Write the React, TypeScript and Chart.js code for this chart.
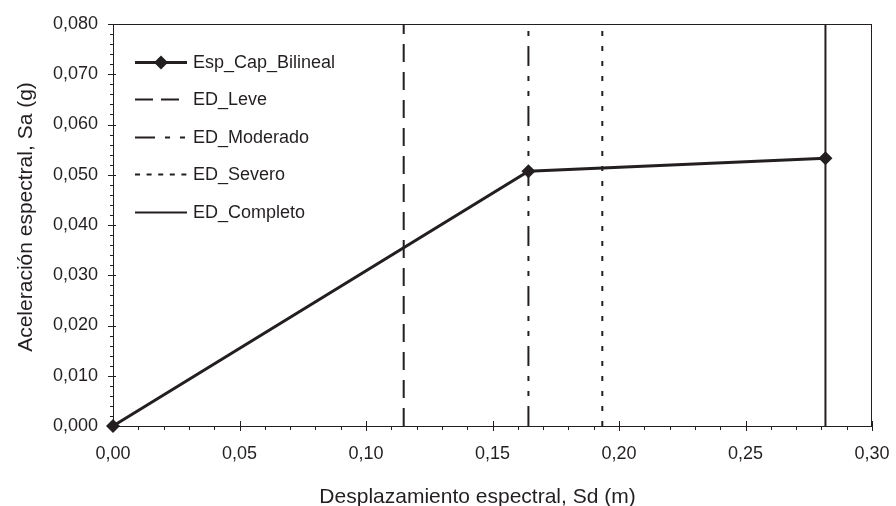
import React, { useEffect, useRef } from 'react';
import { Chart, registerables } from 'chart.js';

Chart.register(...registerables);

// ---- data ----
const capacityLabel = 'Esp_Cap_Bilineal';
const capacityDisplacement = [0, 0.1642, 0.2816];
const capacityAcceleration = [0, 0.0507, 0.0533];

const damageStateLabels = ['ED_Leve', 'ED_Moderado', 'ED_Severo', 'ED_Completo'];
const damageStateDisplacement = [0.1149, 0.1642, 0.1934, 0.2816];

const xTitle = 'Desplazamiento espectral, Sd (m)';
const yTitle = 'Aceleración espectral, Sa (g)';
const xMin = 0;
const xMax = 0.3;
const xStep = 0.05;
const xMinorStep = 0.01;
const yMin = 0;
const yMax = 0.08;
const yStep = 0.01;
const yMinorStep = 0.002;

// ---- styles ----
const INK = '#231f20';
const FONT = '"Liberation Sans", Arial, Helvetica, sans-serif';
const chartDashes = [[18, 10], [20, 10, 5, 10, 5, 10], [5, 10], []];
const legendDashes = [[18, 8], [20, 10, 5, 10, 5, 10], [5, 6.6], []];

const decorPlugin = {
  id: 'decor',
  afterDraw(chart: any) {
    const { ctx, chartArea } = chart;
    const xs = chart.scales.x;
    const ys = chart.scales.y;
    const { left, right, top, bottom } = chartArea;
    ctx.save();
    // frame
    ctx.strokeStyle = INK;
    ctx.lineWidth = 1;
    ctx.setLineDash([]);
    ctx.strokeRect(left + 0.5, top + 0.5, right - left - 1, bottom - top);

    // x ticks
    const nx = Math.round((xMax - xMin) / xMinorStep);
    for (let i = 0; i <= nx; i++) {
      const v = xMin + i * xMinorStep;
      const px = Math.round(xs.getPixelForValue(v)) + 0.5;
      const major = i % Math.round(xStep / xMinorStep) === 0;
      ctx.beginPath();
      if (major) {
        ctx.moveTo(px, bottom - 5);
        ctx.lineTo(px, bottom + 5);
      } else {
        ctx.moveTo(px, bottom);
        ctx.lineTo(px, bottom + 4);
      }
      ctx.stroke();
    }
    // y ticks
    const ny = Math.round((yMax - yMin) / yMinorStep);
    for (let i = 0; i <= ny; i++) {
      const v = yMin + i * yMinorStep;
      const py = Math.round(ys.getPixelForValue(v)) + 0.5;
      const major = i % Math.round(yStep / yMinorStep) === 0;
      ctx.beginPath();
      if (major) {
        ctx.moveTo(left - 5, py);
        ctx.lineTo(left + 3, py);
      } else {
        ctx.moveTo(left - 3, py);
        ctx.lineTo(left, py);
      }
      ctx.stroke();
    }

    // legend
    const lx0 = 135;
    const lx1 = 187;
    const ly0 = 61.5;
    const lstep = 37.5;
    ctx.font = `18px ${FONT}`;
    ctx.textBaseline = 'middle';
    ctx.textAlign = 'left';
    chart.data.datasets.forEach((ds: any, i: number) => {
      const y = Math.round(ly0 + i * lstep) + 0.5;
      ctx.strokeStyle = ds.borderColor;
      ctx.lineWidth = ds.borderWidth;
      ctx.setLineDash(ds.legendDash || []);
      ctx.beginPath();
      ctx.moveTo(lx0, y);
      ctx.lineTo(lx1, y);
      ctx.stroke();
      ctx.setLineDash([]);
      if (ds.pointRadius > 0) {
        const cx = (lx0 + lx1) / 2;
        const r = ds.pointRadius;
        ctx.fillStyle = ds.pointBackgroundColor;
        ctx.beginPath();
        ctx.moveTo(cx, y - r);
        ctx.lineTo(cx + r, y);
        ctx.lineTo(cx, y + r);
        ctx.lineTo(cx - r, y);
        ctx.closePath();
        ctx.fill();
      }
      ctx.fillStyle = INK;
      ctx.fillText(ds.label, 193, y + 1);
    });

    // axis titles
    ctx.font = `21px ${FONT}`;
    ctx.fillStyle = INK;
    ctx.textAlign = 'center';
    ctx.textBaseline = 'alphabetic';
    ctx.fillText(xTitle, 477.5, 503);
    ctx.save();
    ctx.translate(31.5, 217);
    ctx.rotate(-Math.PI / 2);
    ctx.fillText(yTitle, 0, 0);
    ctx.restore();

    ctx.restore();
  },
};

export default function App() {
  const ref = useRef<HTMLCanvasElement | null>(null);

  useEffect(() => {
    if (!ref.current) return;
    const capacityData = capacityDisplacement.map((x, i) => ({ x, y: capacityAcceleration[i] }));
    const damageSets = damageStateLabels.map((label, i) => ({
      label,
      data: [
        { x: damageStateDisplacement[i], y: yMin },
        { x: damageStateDisplacement[i], y: yMax },
      ],
      showLine: true,
      borderColor: INK,
      borderWidth: 2,
      borderDash: chartDashes[i],
      legendDash: legendDashes[i],
      pointRadius: 0,
      pointHoverRadius: 0,
      fill: false,
    }));

    const chart = new Chart(ref.current, {
      type: 'scatter',
      data: {
        datasets: [
          {
            label: capacityLabel,
            data: capacityData,
            showLine: true,
            borderColor: INK,
            borderWidth: 3,
            pointStyle: 'rectRot',
            pointRadius: 7,
            pointBackgroundColor: INK,
            pointBorderColor: INK,
            pointBorderWidth: 0,
            fill: false,
            clip: false,
          } as any,
          ...(damageSets as any[]),
        ],
      },
      options: {
        animation: false,
        responsive: false,
        devicePixelRatio: 1,
        layout: { padding: { left: 0, top: 24, right: 24, bottom: 0 } },
        plugins: {
          legend: { display: false },
          tooltip: { enabled: false },
          title: { display: false },
        },
        scales: {
          x: {
            type: 'linear',
            min: xMin,
            max: xMax,
            grid: { display: false, drawTicks: false },
            border: { display: true, color: INK, width: 1 },
            ticks: {
              stepSize: xStep,
              padding: 17,
              color: INK,
              font: { family: FONT, size: 18 },
              maxRotation: 0,
              callback: (v: any) => Number(v).toFixed(2).replace('.', ','),
            },
            afterFit: (s: any) => {
              s.height = 80;
              s.paddingLeft = 0;
              s.paddingRight = 0;
            },
          },
          y: {
            type: 'linear',
            min: yMin,
            max: yMax,
            grid: { display: false, drawTicks: false },
            border: { display: true, color: INK, width: 1 },
            ticks: {
              stepSize: yStep,
              padding: 15,
              color: INK,
              font: { family: FONT, size: 18 },
              callback: (v: any) => Number(v).toFixed(3).replace('.', ','),
            },
            afterFit: (s: any) => {
              s.width = 113;
              s.paddingTop = 0;
              s.paddingBottom = 0;
            },
          },
        },
      },
      plugins: [decorPlugin],
    } as any);
    return () => chart.destroy();
  }, []);

  return (
    <div style={{ position: 'fixed', left: 0, top: 0, width: 896, height: 506, background: '#fff' }}>
      <canvas ref={ref} width={896} height={506} style={{ display: 'block', width: 896, height: 506 }} />
    </div>
  );
}
